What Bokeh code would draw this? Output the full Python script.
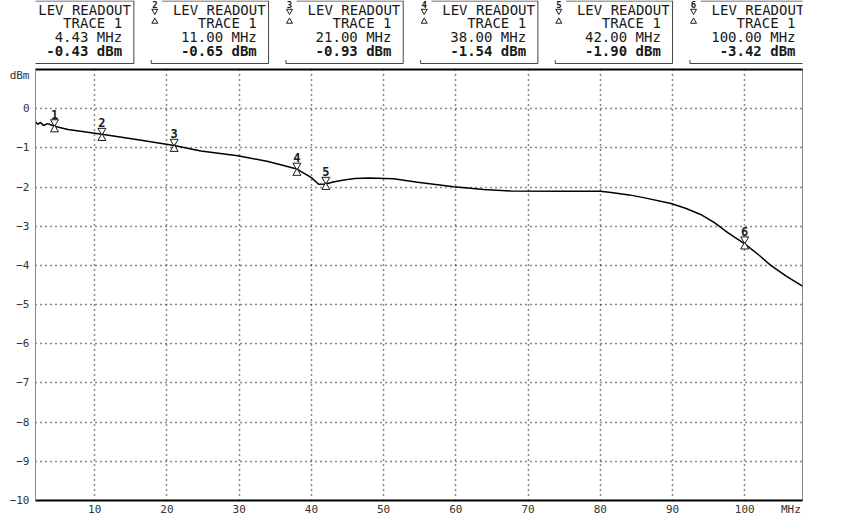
from bokeh.plotting import figure
from bokeh.models import Range1d, LinearAxis, FixedTicker
from bokeh.layouts import column
from bokeh.core.properties import value
from bokeh.embed import file_html
from bokeh.resources import INLINE

# ---------------- data ----------------
trace_freq = [1.8, 2.1, 2.5, 2.9, 3.5, 3.9, 4.43, 6.3, 11.0, 16.0, 21.0, 24.7, 29.8,
              34.0, 38.0, 40.0, 41.0, 42.0, 43.0, 44.5, 46.0, 48.0, 51.4, 54.7, 59.7,
              63.9, 67.6, 75.0, 80.0, 81.5, 84.0, 86.0, 89.8, 91.8, 93.9, 95.8, 97.7,
              100.0, 102.0, 103.6, 105.8, 108.0]
trace_level = [-0.33, -0.40, -0.35, -0.43, -0.38, -0.41, -0.45, -0.53, -0.65, -0.79,
               -0.94, -1.08, -1.20, -1.35, -1.54, -1.76, -1.93, -1.92, -1.87, -1.82,
               -1.78, -1.77, -1.79, -1.88, -1.99, -2.06, -2.10, -2.11, -2.11, -2.14,
               -2.20, -2.27, -2.42, -2.54, -2.70, -2.91, -3.17, -3.45, -3.74, -4.00,
               -4.28, -4.53]

marker_ids = ["1", "2", "3", "4", "5", "6"]
marker_freq = [4.43, 11.00, 21.00, 38.00, 42.00, 100.00]
marker_level = [-0.43, -0.65, -0.93, -1.54, -1.90, -3.42]

x_ticks = [10, 20, 30, 40, 50, 60, 70, 80, 90, 100]
y_ticks = [-10, -9, -8, -7, -6, -5, -4, -3, -2, -1, 0]
x_unit_label = "MHz"
y_unit_label = "dBm"

# ---------------- layout constants ----------------
X_MIN, X_MAX = 1.8, 108.0
Y_MIN, Y_MAX = -10.0, 1.0
W = 850
TOP_H = 64
CHART_H = 455
B_LEFT, B_RIGHT, B_TOP, B_BOTTOM = 35, 48, 5, 19
FRAME_H = CHART_H - B_TOP - B_BOTTOM
DB_PER_PX = (Y_MAX - Y_MIN) / FRAME_H
MONO = "DejaVu Sans Mono"
INK = "#1a1a1a"

# ---------------- readout strip ----------------
top = figure(width=W, height=TOP_H, x_range=Range1d(0, W), y_range=Range1d(TOP_H, 0),
             output_backend="svg", toolbar_location=None, min_border=0)
top.axis.visible = False
top.grid.visible = False
top.outline_line_color = None

BOX_STEP = 149.25
BOX_X0 = -21
box_left = [BOX_X0 + BOX_STEP * i for i in range(len(marker_ids))]

xs, ys = [], []
for L in box_left:
    xs += [[L + 130, L + 130], [L, L + 130], [L, L], [L + 12, L + 130]]
    ys += [[0, 63], [63, 63], [59.5, 63], [0.5, 0.5]]
top.multi_line(xs, ys, line_color="#444444", line_width=1)

txt = dict(text_font=value(MONO), text_font_size="14px", text_color=INK)
top.text([L + 24 for L in box_left], [9] * 6, text=["LEV READOUT"] * 6,
         text_align="left", text_baseline="middle", **txt)
top.text([L + 117 for L in box_left], [22.5] * 6, text=["TRACE 1"] * 6,
         text_align="right", text_baseline="middle", **txt)
top.text([L + 117 for L in box_left], [36] * 6,
         text=[f"{f:.2f} MHz" for f in marker_freq],
         text_align="right", text_baseline="middle", **txt)
top.text([L + 117 for L in box_left], [50] * 6,
         text=[f"{v:.2f} dBm" for v in marker_level],
         text_align="right", text_baseline="middle", text_font_style="bold", **txt)
top.text([L + 4 for L in box_left], [4] * 6, text=marker_ids, text_align="center",
         text_baseline="middle", text_font=value(MONO), text_font_size="9px",
         text_font_style="bold", text_color=INK)
top.scatter([L + 4 for L in box_left], [10.5] * 6, marker="inverted_triangle", size=6,
            fill_color="white", line_color=INK, line_width=1)
top.scatter([L + 4 for L in box_left], [21.0] * 6, marker="triangle", size=6,
            fill_color="white", line_color=INK, line_width=1)

# ---------------- chart ----------------
p = figure(width=W, height=CHART_H, x_range=Range1d(X_MIN, X_MAX),
           y_range=Range1d(Y_MIN, Y_MAX), output_backend="svg",
           toolbar_location=None, min_border_left=B_LEFT, min_border_right=B_RIGHT,
           min_border_top=B_TOP, min_border_bottom=B_BOTTOM)
p.background_fill_color = "white"
p.border_fill_color = "white"
p.outline_line_color = "#888888"
p.outline_line_width = 1

X_UNIT_POS = 106.4
Y_UNIT_POS = 0.85
p.xaxis.ticker = FixedTicker(ticks=x_ticks + [X_UNIT_POS])
p.xaxis.major_label_overrides = {X_UNIT_POS: x_unit_label}
p.yaxis.ticker = FixedTicker(ticks=y_ticks + [Y_UNIT_POS])
p.yaxis.major_label_overrides = {Y_UNIT_POS: y_unit_label}
for ax in (p.xaxis, p.yaxis):
    ax.major_tick_in = 0
    ax.major_tick_out = 0
    ax.minor_tick_in = 0
    ax.minor_tick_out = 0
    ax.major_label_text_font = MONO
    ax.major_label_text_font_size = "11px"
    ax.major_label_text_color = "#333333"
p.xaxis.axis_line_color = "black"
p.xaxis.axis_line_width = 2
p.xaxis.major_label_standoff = 2
p.yaxis.axis_line_color = "#888888"
p.yaxis.axis_line_width = 1
p.yaxis.major_label_standoff = 6

top_axis = LinearAxis(ticker=FixedTicker(ticks=[]), major_tick_in=0, major_tick_out=0,
                      minor_tick_in=0, minor_tick_out=0, major_label_standoff=0,
                      axis_line_color="black", axis_line_width=2,
                      major_label_text_font_size="0px")
p.add_layout(top_axis, "above")

p.xgrid.ticker = FixedTicker(ticks=x_ticks)
p.ygrid.ticker = FixedTicker(ticks=y_ticks)
p.grid.grid_line_color = "#111111"
p.grid.grid_line_dash = "1 4"
p.grid.grid_line_width = 1.5

p.line(trace_freq, trace_level, line_color="black", line_width=1.5)

p.scatter(marker_freq, [v + 3.5 * DB_PER_PX for v in marker_level],
          marker="inverted_triangle", size=8, fill_color="white", line_color=INK,
          line_width=1)
p.scatter(marker_freq, [v - 4.0 * DB_PER_PX for v in marker_level],
          marker="triangle", size=8, fill_color="white", line_color=INK, line_width=1)
p.text(marker_freq, [v + 7.0 * DB_PER_PX for v in marker_level], text=marker_ids,
       text_align="center", text_baseline="bottom", text_font=value(MONO),
       text_font_size="12px", text_font_style="bold", text_color=INK)

layout = column(top, p, spacing=0)

open("out.html", "w").write(file_html(layout, INLINE))
